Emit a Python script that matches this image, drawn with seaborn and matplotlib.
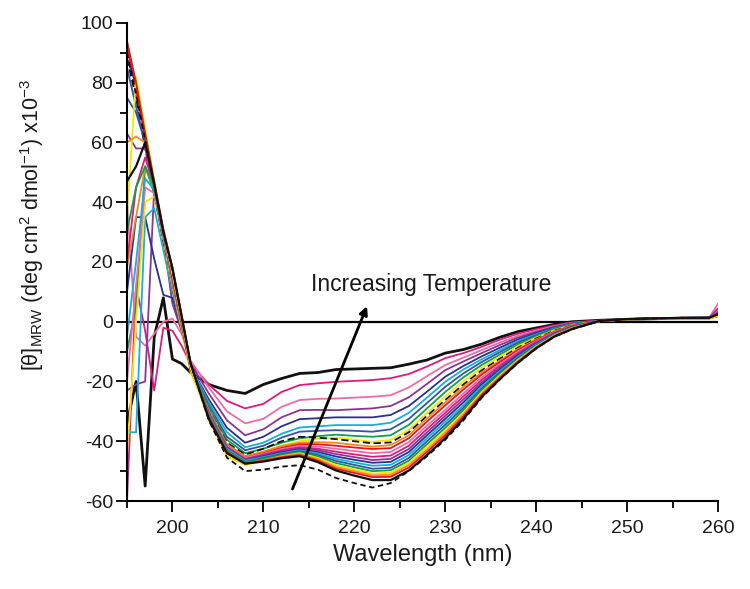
import numpy as np
import pandas as pd
import matplotlib
matplotlib.use("Agg")
import matplotlib.pyplot as plt
import seaborn as sns

# ---------------- data ----------------
wavelength = [195, 196, 197, 198, 199, 200, 201, 202, 204, 206, 208, 210, 212, 214, 216,
              218, 220, 222, 224, 226, 228, 230, 232, 234, 236, 238, 240, 242, 244, 247,
              250, 253, 256, 259, 260]

# curves ordered from highest temperature (top) to lowest temperature (bottom)
t01 = [-34, -20, -55, -5, 8, -12.5, -14, -17, -21, -23, -24, -21, -19, -17.3, -17, -16, -15.8, -15.6, -15.4, -14.2, -12.8, -10.5, -9.3, -7.5, -5.2, -3.3, -2.1, -0.9, 0, 0.5, 0.8, 1.0, 1.2, 1.3, 2.0]
t02 = [-60, 12, -3, -23, -2, -3, -8, -14, -21, -26.5, -29, -27.5, -23.5, -21.2, -20.6, -20.1, -19.8, -19.5, -18.9, -17.5, -15, -12.2, -10.5, -8.4, -6, -4, -2.5, -1.2, -0.2, 0.4, 0.8, 1.0, 1.1, 1.2, 3.0]
t03 = [40, -5, -8, -4, 0, 1, -4, -13, -22, -30, -34, -32.5, -28.5, -26.2, -25.8, -25.7, -25.4, -25.1, -24.6, -22, -18.2, -14.5, -12, -9.5, -7, -4.7, -3, -1.5, -0.4, 0.3, 0.7, 1.0, 1.1, 1.0, 2.5]
t04 = [-23, -21, -20, 45, 28, 6, -3, -14, -24, -33, -38, -36, -32, -29.6, -29.5, -29.6, -29.3, -29.0, -28.2, -25.3, -20.8, -16.2, -13.3, -10.5, -7.8, -5.3, -3.4, -1.7, -0.5, 0.3, 0.8, 1.0, 1.2, 1.1, 3.5]
t05 = [10, 35, 35, 21, 9, 8, -2, -15, -26, -35.5, -40.5, -38.5, -35, -32.6, -32.3, -32, -32, -32, -31.2, -28.2, -23.4, -18.4, -14.8, -11.6, -8.7, -5.9, -3.8, -2, -0.6, 0.3, 0.9, 1.1, 1.2, 1.3, 2.5]
t06 = [-37, -37, 35, 38, 24, 10, -2, -15, -27, -37, -42, -40.5, -37.5, -35.4, -35, -34.6, -34.6, -34.6, -33.8, -30.5, -25.4, -20.1, -16, -12.6, -9.5, -6.5, -4.2, -2.2, -0.7, 0.3, 0.8, 1.0, 1.2, 1.1, 2.0]
t07 = [75, 70, 60, 45, 28, 11, -2, -15.5, -28, -38.5, -43, -41.5, -38.8, -36.8, -36.5, -36.3, -36.5, -36.8, -36, -32.5, -27.2, -21.8, -17.3, -13.5, -10.2, -7, -4.5, -2.4, -0.8, 0.3, 0.9, 1.1, 1.3, 1.2, 2.5]
t08 = [-10, 5, 52, 43, 27, 12, -1.5, -15.5, -28.5, -39.5, -44, -42.5, -40.5, -39, -38.3, -37.8, -38.2, -38.5, -38, -34.5, -29, -23.5, -18.6, -14.5, -11, -7.6, -4.9, -2.6, -0.9, 0.2, 0.8, 1.0, 1.2, 1.1, 3.0]
t09 = [-45, 0, 40, 42, 27, 12, -2, -17, -31, -42, -45, -43.5, -41.5, -40, -39.2, -38.8, -39.5, -40.2, -39.6, -36.2, -30.6, -25.1, -20, -15.5, -11.8, -8.2, -5.3, -2.8, -1, 0.2, 0.8, 1.0, 1.1, 1.0, 2.0]
t10 = [88, 75, 58, 43, 27, 13, -1, -16, -29.5, -40.5, -44.5, -42.5, -40, -38.5, -38.8, -39.3, -40, -40.7, -40.4, -37, -31.5, -26.2, -21, -16.3, -12.4, -8.7, -5.6, -3, -1.1, 0.3, 0.9, 1.0, 1.2, 1.2, 2.5]
t11 = [18, 35, 52, 44, 28, 13, -1, -16, -29.5, -41, -45, -43.5, -41.6, -40.5, -40.3, -40.5, -41.2, -41.8, -41.3, -38, -32.4, -27, -21.8, -17, -13, -9.1, -5.9, -3.2, -1.2, 0.2, 0.8, 1.0, 1.1, 1.1, 2.0]
t12 = [92, 78, 62, 46, 30, 14, -0.5, -16, -30, -41.5, -45.5, -44, -42.2, -41, -41, -41.5, -42.1, -42.6, -42.3, -39, -33.4, -28, -22.7, -17.7, -13.5, -9.5, -6.2, -3.4, -1.3, 0.2, 0.8, 1.0, 1.2, 1.1, 2.5]
t13 = [-20, 12, 45, 43, 28, 14, 0, -15.5, -30, -41.5, -45.5, -44.2, -42.6, -41.5, -41.8, -42.5, -43.3, -44, -43.6, -40.3, -34.8, -29.5, -24, -18.7, -14.2, -10, -6.5, -3.6, -1.4, 0.3, 0.9, 1.1, 1.3, 1.2, 6.0]
t14 = [20, 45, 55, 45, 29, 14.5, 0, -15.5, -30.5, -42, -46, -44.5, -43, -42, -42.5, -43.5, -44.4, -45.2, -44.8, -41.5, -35.9, -30.5, -25, -19.5, -14.8, -10.5, -6.8, -3.8, -1.5, 0.2, 0.8, 1.0, 1.2, 1.1, 4.5]
t15 = [63, 58, 58, 45, 30, 15, 0.5, -15.5, -30.5, -42, -46, -44.8, -43.4, -42.3, -43, -44.3, -45.3, -46.3, -45.9, -42.6, -37, -31.5, -26, -20.3, -15.4, -10.9, -7.1, -3.9, -1.6, 0.2, 0.8, 1.1, 1.2, 1.2, 3.5]
t16 = [88, 80, 62, 46, 30, 15.5, 1, -15, -31, -42.5, -46.5, -45, -43.7, -42.7, -43.6, -45.1, -46.2, -47.2, -46.9, -43.6, -38, -32.5, -27, -21, -16, -11.3, -7.4, -4.1, -1.7, 0.2, 0.9, 1.1, 1.3, 1.4, 3.0]
t17 = [-5, 20, 48, 44, 29, 16, 1, -15, -31, -42.5, -46.5, -45.3, -44, -43, -44.1, -45.9, -47.1, -48.2, -47.9, -44.6, -39, -33.5, -28, -21.7, -16.5, -11.7, -7.6, -4.2, -1.8, 0.2, 0.8, 1.0, 1.2, 1.1, 3.5]
t18 = [85, 72, 60, 45, 30, 16.5, 1.5, -15, -31.5, -43, -47, -45.6, -44.3, -43.3, -44.6, -46.6, -47.9, -49.2, -48.9, -45.6, -40, -34.5, -28.8, -22.4, -17, -12.1, -7.9, -4.4, -1.9, 0.2, 0.9, 1.1, 1.2, 1.3, 3.0]
t19 = [30, 45, 52, 45, 30, 17, 1.5, -14.5, -31.5, -43, -47, -45.9, -44.6, -43.6, -45.1, -47.3, -48.7, -50, -49.7, -46.5, -41, -35.5, -29.6, -23, -17.5, -12.5, -8.1, -4.5, -2, 0.2, 0.8, 1.0, 1.2, 1.1, 2.5]
t20 = [35, 82, 65, 47, 30, 16, 1, -15.5, -33, -45, -48, -46.5, -45, -44, -45.6, -48, -49.4, -50.8, -50.5, -47.3, -41.9, -36.5, -30.4, -23.6, -18, -12.8, -8.3, -4.6, -2.1, 0.2, 0.8, 1.0, 1.1, 1.0, 2.0]
t21 = [60, 62, 60, 46, 31, 17.5, 2, -14.5, -32, -43.5, -47.5, -46.3, -45.1, -44.3, -46, -48.6, -50, -51.4, -51.2, -48, -42.8, -37.2, -31, -24.1, -18.4, -13.1, -8.5, -4.7, -2.2, 0.2, 0.8, 1.0, 1.2, 1.1, 2.5]
t22 = [94, 80, 63, 47, 31, 18, 2.5, -14, -32, -43.5, -47.5, -46.5, -45.4, -44.6, -46.5, -49.2, -50.6, -52, -51.9, -48.8, -43.6, -38, -31.7, -24.6, -18.8, -13.4, -8.7, -4.8, -2.3, 0.2, 0.9, 1.1, 1.3, 1.2, 3.0]
t23 = [47, 52, 60, 46, 30, 18, 2, -14, -32.5, -44, -47.5, -46.8, -45.7, -45, -47, -49.8, -51.5, -53, -53, -49.8, -44.6, -39, -32.5, -25.2, -19.2, -13.7, -8.9, -5, -2.4, 0.3, 0.9, 1.1, 1.3, 1.3, 2.5]
t24 = [90, 76, 61, 46, 30, 17, 2, -14, -33, -45.5, -50, -49.5, -48.5, -48, -49.5, -52.3, -54, -55.5, -54, -50, -45, -39.5, -33, -25.5, -19.4, -13.8, -9, -5, -2.5, 0.3, 0.9, 1.1, 1.3, 1.3, 2.5]

curves = [t01, t02, t03, t04, t05, t06, t07, t08, t09, t10, t11, t12,
          t13, t14, t15, t16, t17, t18, t19, t20, t21, t22, t23, t24]

# ---------------- styles ----------------
BLACK, MAGENTA, PINK, PURPLE = "#111111", "#e0197d", "#f06aa8", "#8a3592"
NAVY, CYAN, BLUE, GREEN = "#2b2f8e", "#14aee0", "#3553a6", "#0ea04a"
YELLOW, ORANGE, RED = "#f3e600", "#f3891f", "#e3161f"
colors = [BLACK, MAGENTA, PINK, PURPLE, NAVY, CYAN, BLUE, GREEN, YELLOW, BLACK, ORANGE, RED,
          PINK, MAGENTA, PURPLE, NAVY, CYAN, BLUE, GREEN, YELLOW, ORANGE, RED, BLACK, BLACK]
styles = ["-"] * 24
styles[9] = (0, (4, 2))
styles[23] = (0, (3, 2))
widths = [1.3] * 24
widths[0] = 2.0
widths[22] = 1.6

sns.set_style("ticks")
plt.rcParams["font.family"] = ["Liberation Sans", "DejaVu Sans"]
plt.rcParams["mathtext.fontset"] = "custom"
plt.rcParams["mathtext.rm"] = "Liberation Sans"
plt.rcParams["mathtext.it"] = "Liberation Sans:italic"
plt.rcParams["axes.unicode_minus"] = False

fig = plt.figure(figsize=(7.5, 5.89), dpi=100)
ax = fig.add_axes([0.1693, 0.1494, 0.7880, 0.8116])

for i, vals in enumerate(curves):
    df = pd.DataFrame({"wl": wavelength, "theta": vals})
    sns.lineplot(data=df, x="wl", y="theta", ax=ax, color=colors[i],
                 linewidth=widths[i], linestyle=styles[i], sort=False, zorder=2 + i * 0.01)

ax.axhline(0, color="black", linewidth=1.6, zorder=1)

ax.set_xlim(195, 260)
ax.set_ylim(-60, 100)
ax.set_xticks(np.arange(200, 261, 10))
ax.set_xticks(np.arange(195, 261, 10), minor=True)
ax.set_yticks(np.arange(-60, 101, 20))
ax.set_yticks(np.arange(-50, 100, 20), minor=True)
ax.tick_params(axis="both", which="major", direction="out", length=8, width=1.3,
               labelsize=14, pad=2, color="black", labelcolor="#1a1a1a")
ax.tick_params(axis="x", which="major", pad=6)
ax.tick_params(axis="both", which="minor", direction="out", length=5, width=1.3, color="black")
for side in ["top", "right"]:
    ax.spines[side].set_visible(False)
for side in ["left", "bottom"]:
    ax.spines[side].set_linewidth(1.5)
    ax.spines[side].set_color("black")

ax.set_xlabel("Wavelength (nm)", fontsize=17, color="#1a1a1a", labelpad=5)
ax.set_ylabel("[θ]$_{\\mathrm{MRW}}$ (deg cm$^{2}$ dmol$^{-1}$) x10$^{-3}$",
              fontsize=15.5, color="#1a1a1a")
ax.yaxis.set_label_coords(-0.137, 0.577)

ax.annotate("", xy=(221.4, 5.2), xytext=(213.2, -56),
            arrowprops=dict(arrowstyle="-|>", lw=2.0, color="black", mutation_scale=12,
                            shrinkA=0, shrinkB=0), zorder=5)
ax.text(228.5, 10.3, "Increasing Temperature", fontsize=16.5, ha="center", va="baseline",
        color="#1a1a1a", zorder=5)

fig.savefig("out.png", dpi=100)
